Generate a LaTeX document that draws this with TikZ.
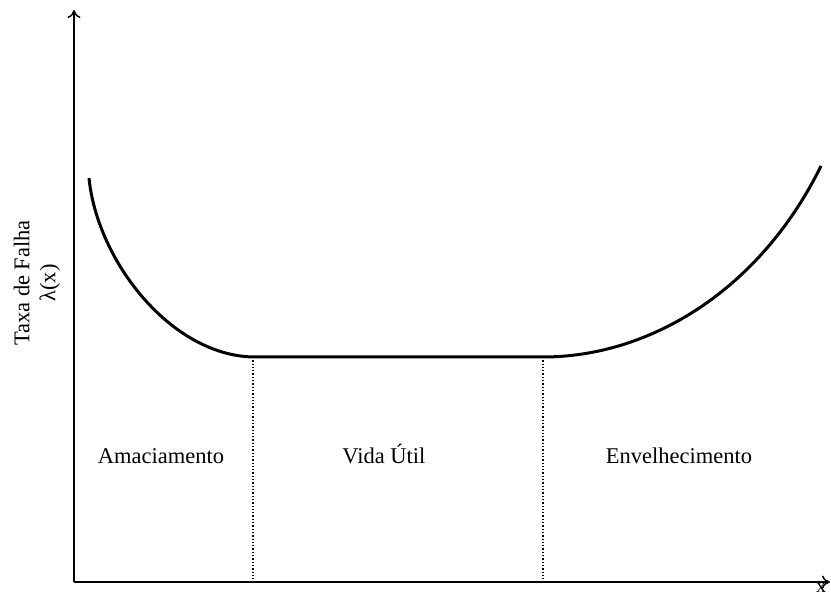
\documentclass[tikz,border=0pt]{standalone}
\usepackage{fontspec}
\setmainfont{Liberation Serif}
\usepackage{tikz}
\usetikzlibrary{arrows.meta}
\tikzstyle{axis} = [line width=1.4pt, -{To[length=8pt,width=13pt]}]
\tikzstyle{curve} = [line width=3pt]
\tikzstyle{divider} = [line width=1.3pt, dotted]
\tikzstyle{label} = [font=\fontsize{22.5}{26}\selectfont]
\tikzstyle{phase} = [label, anchor=base]

\begin{document}
\begin{tikzpicture}[x=1pt, y=-1pt]
\useasboundingbox (0,0) rectangle (831,596);

\coordinate (origin) at (74,582);
\coordinate (ytop) at (74,10);
\coordinate (xend) at (830,582);

\draw[axis] (origin) -- (ytop);
\draw[axis] (origin) -- (xend);

\node (xlabel) [font=\fontsize{20}{24}\selectfont, anchor=base, inner sep=0pt] at (821,592) {x};

\node (ylabel) [label, align=center, rotate=90] at (37,283) {
Taxa de Falha\\ λ(x)
};

% curva da banheira
\coordinate (start) at (89,178);
\coordinate (flatA) at (253,357);
\coordinate (flatB) at (543,357);
\coordinate (finish) at (821,166);

\draw[curve] (start) .. controls (97,260) and (170,355) .. (flatA)
  -- (flatB) .. controls (650,357) and (760,290) .. (finish);

\coordinate (baseA) at (253,582);
\coordinate (baseB) at (543,582);

\draw[divider] (flatA) -- (baseA);
\draw[divider] (flatB) -- (baseB);

\node (amaciamento) [phase] at (161,464) {Amaciamento};
\node (vida) [phase] at (384,464) {Vida Útil};
\node (envelhecimento) [phase] at (679,464) {Envelhecimento};

\end{tikzpicture}
\end{document}
